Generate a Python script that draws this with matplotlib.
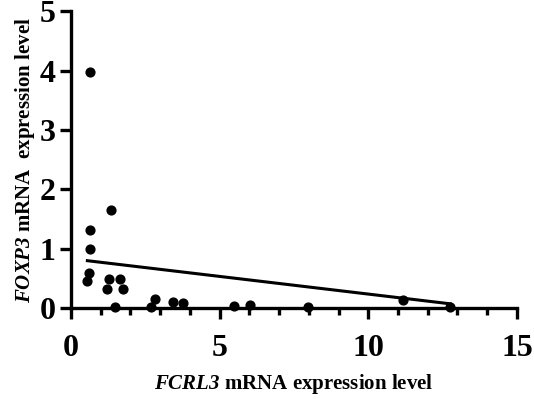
import numpy as np
import matplotlib
matplotlib.use("Agg")
import matplotlib.pyplot as plt

# values
fcrl3 = [0.64, 0.65, 0.65, 1.34, 0.61, 0.55, 1.27, 1.65, 1.20, 1.75,
         1.49, 2.70, 2.82, 3.43, 3.76, 5.47, 6.02, 7.97, 11.16, 12.76]
foxp3 = [3.98, 1.31, 1.00, 1.65, 0.59, 0.45, 0.49, 0.49, 0.32, 0.32,
         0.02, 0.02, 0.15, 0.10, 0.08, 0.03, 0.05, 0.02, 0.13, 0.02]

# regression line as drawn (slope / intercept)
fit_slope = -0.0595
fit_intercept = 0.83

x_ticks = [0, 5, 10, 15]
y_ticks = [0, 1, 2, 3, 4, 5]

plt.rcParams['font.family'] = 'Liberation Serif'
plt.rcParams['font.weight'] = 'bold'
plt.rcParams['mathtext.fontset'] = 'custom'
# gene names: italic bold, digits included
plt.rcParams['mathtext.rm'] = 'Liberation Serif:italic:bold'
plt.rcParams['mathtext.it'] = 'Liberation Serif:italic:bold'

fig = plt.figure(figsize=(5.34, 3.99), dpi=100)
ax = fig.add_axes([0.133, 0.228, 0.835, 0.744])

ax.scatter(fcrl3, foxp3, s=40, color='black', zorder=3, clip_on=False)

xl = np.array([min(fcrl3), max(fcrl3)])
ax.plot(xl, fit_intercept + fit_slope * xl, color='black', linewidth=2.2)

ax.set_xlim(0, 15)
ax.set_ylim(0, 5)
ax.set_xticks(x_ticks)
ax.set_xticks(np.arange(0, 16, 1), minor=True)
ax.set_yticks(y_ticks)

for s in ['top', 'right']:
    ax.spines[s].set_visible(False)
for s in ['left', 'bottom']:
    ax.spines[s].set_linewidth(2.4)

ax.tick_params(axis='both', which='major', length=8, width=2.4,
               labelsize=23, pad=3)
ax.tick_params(axis='x', which='major', pad=11)
ax.tick_params(axis='x', which='minor', length=5, width=2.4)
for lab in ax.get_xticklabels() + ax.get_yticklabels():
    lab.set_fontweight('bold')

ax.set_xlabel(r"$\mathrm{FCRL3}$ mRNA expression level", fontsize=15,
              fontweight='bold', labelpad=6)
ax.set_ylabel(r"$\mathrm{FOXP3}$ mRNA  expression level", fontsize=15,
              fontweight='bold', labelpad=2)

fig.savefig("out.png", dpi=100)
